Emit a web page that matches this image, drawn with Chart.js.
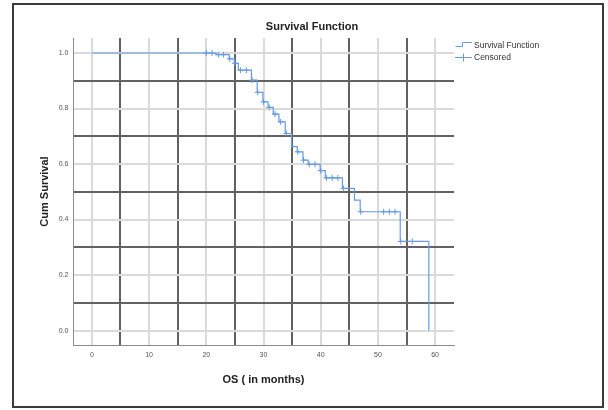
<!DOCTYPE html>
<html>
<head>
<meta charset="utf-8">
<title>Survival Function</title>
<script src="https://cdn.jsdelivr.net/npm/chart.js@4.4.1/dist/chart.umd.min.js"></script>
<style>
  html, body { margin: 0; padding: 0; background: #fff; }
  #wrap { position: relative; width: 608px; height: 410px; }
  #frame { position: absolute; left: 12px; top: 3px; width: 588px; height: 401px; border: 2px solid #3a3a3a; }
  #chart { position: absolute; left: 0; top: 0; }
</style>
</head>
<body>
<div id="wrap">
  <div id="frame"></div>
  <canvas id="chart" width="608" height="410"></canvas>
</div>
<script>
// Kaplan-Meier step points (month of drop, survival after the drop)
const stepTimes = [0, 21.7, 24.0, 24.9, 25.6, 27.9, 28.9, 29.9, 30.8, 31.7, 32.7, 33.8, 34.9, 35.9, 36.9, 37.8, 39.9, 40.8, 43.8, 45.9, 46.9, 53.9, 58.9];
const stepSurvival = [1.0, 0.994, 0.979, 0.963, 0.938, 0.902, 0.858, 0.824, 0.804, 0.780, 0.752, 0.710, 0.663, 0.644, 0.614, 0.599, 0.576, 0.550, 0.512, 0.470, 0.428, 0.321, 0.0];

// Censored cases
const censorTimes = [20.0, 21.0, 22.1, 23.0, 24.1, 25.0, 26.0, 27.0, 28.0, 29.0, 30.0, 31.0, 32.0, 33.0, 34.0, 36.0, 37.0, 38.0, 39.0, 40.0, 41.0, 42.0, 43.0, 44.0, 47.0, 51.0, 52.0, 53.0, 54.0, 56.0];
const censorSurvival = [1.0, 1.0, 0.994, 0.994, 0.979, 0.963, 0.938, 0.938, 0.902, 0.858, 0.824, 0.804, 0.780, 0.752, 0.710, 0.644, 0.614, 0.599, 0.599, 0.576, 0.550, 0.550, 0.550, 0.512, 0.428, 0.428, 0.428, 0.428, 0.321, 0.321];

// Axis ticks
const xTickValues = [0, 5, 10, 15, 20, 25, 30, 35, 40, 45, 50, 55, 60];
const xTickLabels = ['0', '', '10', '', '20', '', '30', '', '40', '', '50', '', '60'];
const yTickValues = [0, 0.1, 0.2, 0.3, 0.4, 0.5, 0.6, 0.7, 0.8, 0.9, 1.0];
const yTickLabels = ['0.0', '', '0.2', '', '0.4', '', '0.6', '', '0.8', '', '1.0'];

const chartTitle = 'Survival Function';
const legendLabels = ['Survival Function', 'Censored'];
const xTitle = 'OS ( in months)';
const yTitle = 'Cum Survival';

const lineColor = 'rgb(100, 155, 228)';
const darkGrid = '#626262';
const lightGrid = '#dadada';
const titleFont = { family: '"Liberation Sans", Arial, sans-serif', size: 11, weight: 'bold' };
const tickFont = { family: '"Liberation Sans", Arial, sans-serif', size: 7 };

// Title and legend are drawn on top, SPSS style
const overlayPlugin = {
    id: 'overlay',
    afterDraw(chart) {
        const ctx = chart.ctx;
        ctx.save();
        ctx.fillStyle = '#222';
        ctx.font = 'bold 11px "Liberation Sans", Arial, sans-serif';
        ctx.textAlign = 'center';
        ctx.textBaseline = 'middle';
        ctx.fillText(chartTitle, 312, 27);

        // legend icons
        ctx.strokeStyle = lineColor;
        ctx.lineWidth = 1;
        ctx.beginPath();
        ctx.moveTo(455.5, 46.5);
        ctx.lineTo(462.5, 46.5);
        ctx.lineTo(462.5, 42.5);
        ctx.lineTo(472, 42.5);
        ctx.stroke();
        ctx.beginPath();
        ctx.moveTo(455, 57.5);
        ctx.lineTo(472, 57.5);
        ctx.moveTo(463.5, 53.5);
        ctx.lineTo(463.5, 61.5);
        ctx.stroke();

        ctx.fillStyle = '#333';
        ctx.font = '8.5px "Liberation Sans Narrow", "Liberation Sans", Arial, sans-serif';
        ctx.textAlign = 'left';
        ctx.fillText(legendLabels[0], 474, 46);
        ctx.fillText(legendLabels[1], 474, 58);
        ctx.restore();
    }
};

const ctx = document.getElementById('chart').getContext('2d');
new Chart(ctx, {
    type: 'line',
    data: {
        datasets: [
            {
                label: legendLabels[0],
                data: stepTimes.map((t, i) => ({ x: t, y: stepSurvival[i] })),
                borderColor: lineColor,
                borderWidth: 1.2,
                stepped: 'before',
                pointRadius: 0,
                fill: false
            },
            {
                label: legendLabels[1],
                data: censorTimes.map((t, i) => ({ x: t, y: censorSurvival[i] })),
                showLine: false,
                pointStyle: 'cross',
                pointRadius: 3,
                pointBorderWidth: 1,
                pointBorderColor: lineColor,
                pointBackgroundColor: lineColor
            }
        ]
    },
    options: {
        responsive: false,
        animation: false,
        devicePixelRatio: 1,
        layout: {
            padding: { left: 30, right: 154, top: 38, bottom: 20 }
        },
        scales: {
            x: {
                type: 'linear',
                min: -3.3,
                max: 63.3,
                afterBuildTicks: axis => { axis.ticks = xTickValues.map(v => ({ value: v })); },
                afterFit: axis => { axis.height = 45; },
                grid: {
                    drawTicks: false,
                    lineWidth: 2,
                    color: c => (Math.round(c.tick.value) % 10 === 5 ? darkGrid : lightGrid)
                },
                border: { display: true, color: '#8c8c8c', width: 1 },
                ticks: {
                    padding: 6,
                    font: tickFont,
                    color: '#555',
                    maxRotation: 0,
                    autoSkip: false,
                    callback: (value, index) => xTickLabels[index]
                },
                title: {
                    display: true,
                    text: xTitle,
                    font: titleFont,
                    color: '#222',
                    padding: { top: 0, bottom: 3.4 }
                }
            },
            y: {
                type: 'linear',
                min: -0.052,
                max: 1.054,
                afterBuildTicks: axis => { axis.ticks = yTickValues.map(v => ({ value: v })); },
                afterFit: axis => { axis.width = 43; },
                grid: {
                    drawTicks: false,
                    lineWidth: 2,
                    color: c => (Math.round(c.tick.value * 10) % 2 === 1 ? darkGrid : lightGrid)
                },
                border: { display: true, color: '#8c8c8c', width: 1 },
                ticks: {
                    padding: 4.5,
                    font: tickFont,
                    color: '#555',
                    autoSkip: false,
                    callback: (value, index) => yTickLabels[index]
                },
                title: {
                    display: true,
                    text: yTitle,
                    font: titleFont,
                    color: '#222',
                    padding: { top: 8.4, bottom: 0 }
                }
            }
        },
        plugins: {
            legend: { display: false },
            tooltip: { enabled: false },
            title: { display: false }
        }
    },
    plugins: [overlayPlugin]
});
</script>
</body>
</html>
